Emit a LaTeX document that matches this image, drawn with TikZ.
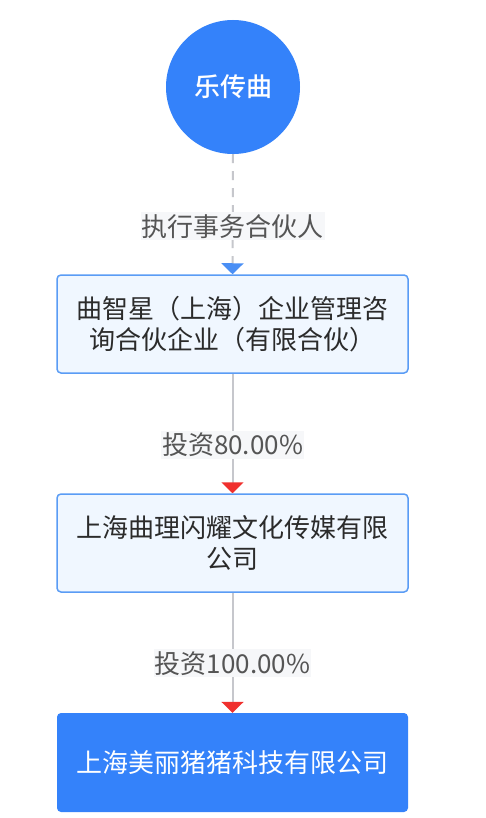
\documentclass[tikz,border=0pt]{standalone}
\usepackage{fontspec}
\setmainfont{Noto Sans CJK SC}
\newfontfamily\cjkmed{Noto Sans CJK SC Medium}
\usetikzlibrary{arrows.meta}
\definecolor{mainblue}{HTML}{3482FA}
\definecolor{boxborder}{HTML}{5A9CF5}
\definecolor{boxfill}{HTML}{F0F7FF}
\definecolor{linegray}{HTML}{C6C7CC}
\definecolor{labelbg}{HTML}{F6F7F9}
\definecolor{labeltext}{HTML}{555555}
\definecolor{boxtext}{HTML}{2B2B2B}
\definecolor{arrowred}{HTML}{F0302E}
\definecolor{arrowblue}{HTML}{4A8FF5}
\begin{document}
\begin{tikzpicture}[x=1pt,y=-1pt,
  person/.style={circle,fill=mainblue,minimum size=134pt,inner sep=0pt,text=white,font=\fontsize{26}{30}\cjkmed},
  lightbox/.style={draw=boxborder,line width=1.5pt,fill=boxfill,rounded corners=4pt,minimum width=351pt,minimum height=98pt,inner sep=0pt,align=center,text=boxtext,font=\fontsize{26}{31}\selectfont},
  darkbox/.style={fill=mainblue,rounded corners=4pt,minimum width=351pt,minimum height=99pt,inner sep=0pt,align=center,text=white,font=\fontsize{26}{31}\selectfont},
  edgelabel/.style={fill=labelbg,text=labeltext,inner xsep=1pt,inner ysep=2pt,font=\fontsize{26}{30}\selectfont},
  link/.style={draw=linegray,line width=2pt},
  redtip/.style={-{Triangle[width=22pt,length=11pt,color=arrowred]}},
  bluetip/.style={-{Triangle[width=22pt,length=11pt,color=arrowblue]}}
]
\useasboundingbox (0,0) rectangle (485,818);
\fill[white] (0,0) rectangle (485,818);
\node[person] (p) at (233,87) {乐传曲};
\node[lightbox] (b1) at (232.5,324) {曲智星（上海）企业管理咨\\询合伙企业（有限合伙）};
\node[lightbox] (b2) at (232.5,543) {上海曲理闪耀文化传媒有限\\公司};
\node[darkbox] (b3) at (232.5,762.5) {上海美丽猪猪科技有限公司};
\draw[link,dash pattern=on 9pt off 8pt,bluetip] (p.south) -- (b1.north)
  node[edgelabel,pos=0.6] (l1) {执行事务合伙人};
\draw[link,redtip] (b1.south) -- (b2.north)
  node[edgelabel,pos=0.595] (l2) {投资80.00\%};
\draw[link,redtip] (b2.south) -- (b3.north)
  node[edgelabel,pos=0.587] (l3) {投资100.00\%};
\end{tikzpicture}
\end{document}
